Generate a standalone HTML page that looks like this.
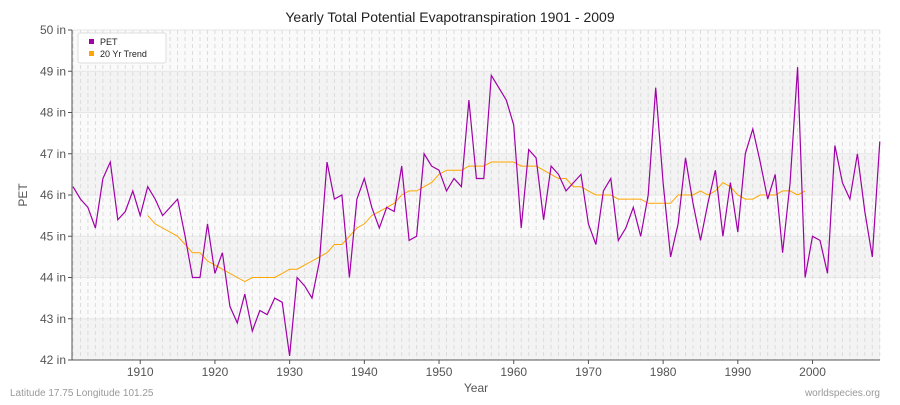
<!DOCTYPE html>
<html><head><meta charset="utf-8"><style>
body{margin:0;background:#fff;}
svg text{font-family:"Liberation Sans",sans-serif;}
</style></head><body>
<svg id="s" width="900" height="400" xmlns="http://www.w3.org/2000/svg">
<rect width="900" height="400" fill="#fff"/>
<g id="bands"></g>
<g id="grid"></g>
<text x="450" y="22" text-anchor="middle" font-size="14" fill="#222">Yearly Total Potential Evapotranspiration 1901 - 2009</text>
<line x1="72" y1="30" x2="72" y2="360" stroke="#555" stroke-width="1"/>
<line x1="72" y1="360" x2="880" y2="360" stroke="#555" stroke-width="1"/>
<g id="yl" font-size="12" fill="#555" text-anchor="end"></g>
<g id="xl" font-size="12" fill="#555" text-anchor="middle"></g>
<text x="27" y="195" font-size="12" fill="#555" text-anchor="middle" transform="rotate(-90 27 195)">PET</text>
<text x="476" y="392" font-size="12" fill="#555" text-anchor="middle">Year</text>
<text x="10" y="396" font-size="10" fill="#999">Latitude 17.75 Longitude 101.25</text>
<text x="880" y="396" font-size="10" fill="#999" text-anchor="end">worldspecies.org</text>
<polyline id="tr" fill="none" stroke="#ffa500" stroke-width="1"/>
<polyline id="pet" fill="none" stroke="#a000a8" stroke-width="1.2"/>
<rect x="78" y="33" width="88" height="30" fill="#fff" stroke="#ddd" rx="2"/>
<rect x="89" y="39" width="5" height="5" fill="#a000a8"/>
<text x="100" y="45" font-size="9" fill="#222">PET</text>
<rect x="89" y="51" width="5" height="5" fill="#ffa500"/>
<text x="100" y="57" font-size="9" fill="#222">20 Yr Trend</text>
</svg>
<script>
var ns="http://www.w3.org/2000/svg";
function X(y){return 73+(y-1901)*7.47;}
function Y(v){return 360-(v-42)*41.25;}
function el(p,t,a){var e=document.createElementNS(ns,t);for(var k in a)e.setAttribute(k,a[k]);document.getElementById(p).appendChild(e);return e;}
for(var i=42;i<50;i++){el("bands","rect",{x:72,y:Y(i+1),width:808,height:41.25,fill:(i%2==0)?"#f3f3f3":"#fafafa"});}
for(var i=42;i<=50;i++){el("grid","line",{x1:72,x2:880,y1:Y(i),y2:Y(i),stroke:"#e6e6e6"});
 var t=el("yl","text",{x:66,y:Y(i)+4});t.textContent=i+" in";
 el("grid","line",{x1:68,x2:72,y1:Y(i),y2:Y(i),stroke:"#555"});}
for(var y=1901;y<=2009;y++){el("grid","line",{x1:X(y),x2:X(y),y1:30,y2:360,stroke:"#dcdcdc","stroke-dasharray":"4,3"});}
for(var y=1910;y<=2000;y+=10){var t=el("xl","text",{x:X(y),y:376});t.textContent=y;el("grid","line",{x1:X(y),x2:X(y),y1:360,y2:364,stroke:"#555"});}
var pet=[46.2,45.9,45.7,45.2,46.4,46.8,45.4,45.6,46.1,45.5,46.2,45.9,45.5,45.7,45.9,45.0,44.0,44.0,45.3,44.1,44.6,43.3,42.9,43.6,42.7,43.2,43.1,43.5,43.4,42.1,44.0,43.8,43.5,44.4,46.8,45.9,46.0,44.0,45.9,46.4,45.7,45.2,45.7,45.6,46.7,44.9,45.0,47.0,46.7,46.6,46.1,46.4,46.2,48.3,46.4,46.4,48.9,48.6,48.3,47.7,45.2,47.1,46.9,45.4,46.7,46.5,46.1,46.3,46.5,45.3,44.8,46.1,46.4,44.9,45.2,45.7,45.0,46.0,48.6,46.3,44.5,45.3,46.9,45.8,44.9,45.8,46.6,45.0,46.3,45.1,47.0,47.6,46.8,45.9,46.5,44.6,46.3,49.1,44.0,45.0,44.9,44.1,47.2,46.3,45.9,47.0,45.6,44.5,47.3];
var tr=[45.5,45.3,45.2,45.1,45.0,44.8,44.6,44.6,44.4,44.3,44.2,44.1,44.0,43.9,44.0,44.0,44.0,44.0,44.1,44.2,44.2,44.3,44.4,44.5,44.6,44.8,44.8,45.0,45.2,45.3,45.5,45.6,45.7,45.8,46.0,46.1,46.1,46.2,46.3,46.5,46.6,46.6,46.6,46.7,46.7,46.7,46.8,46.8,46.8,46.8,46.7,46.7,46.7,46.6,46.5,46.4,46.4,46.2,46.2,46.1,46.0,46.0,46.0,45.9,45.9,45.9,45.9,45.8,45.8,45.8,45.8,46.0,46.0,46.0,46.1,46.0,46.1,46.3,46.2,46.0,45.9,45.9,46.0,46.0,46.0,46.1,46.1,46.0,46.1];
document.getElementById("pet").setAttribute("points",pet.map(function(v,i){return X(1901+i).toFixed(1)+","+Y(v).toFixed(1);}).join(" "));
document.getElementById("tr").setAttribute("points",tr.map(function(v,i){return X(1911+i).toFixed(1)+","+Y(v).toFixed(1);}).join(" "));
</script>
</body></html>
